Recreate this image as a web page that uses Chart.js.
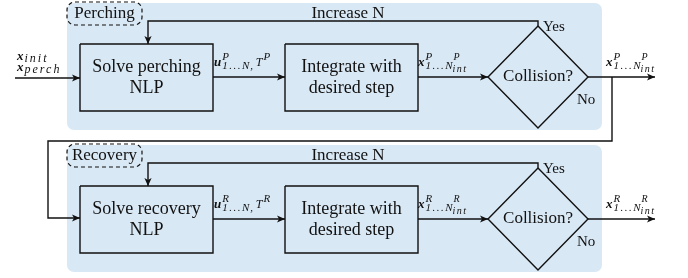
<!DOCTYPE html>
<html>
<head>
<meta charset="utf-8">
<script src="https://cdn.jsdelivr.net/npm/chart.js@4/dist/chart.umd.min.js"></script>
<style>
html, body { margin: 0; padding: 0; background: #fff; }
#wrap { width: 688px; height: 278px; }
</style>
</head>
<body>
<div id="wrap"><canvas id="chart" width="688" height="278"></canvas></div>
<script>
// diagram text
const stages = ["Perching", "Recovery"];
const stageSymbols = ["P", "R"];
const solveLabels = [["Solve perching", "NLP"], ["Solve recovery", "NLP"]];
const integrateLabels = ["Integrate with", "desired step"];
const decisionLabel = "Collision?";
const loopLabel = "Increase N";
const branchLabels = ["Yes", "No"];
const inputSubscripts = ["init", "perch"];

// layout (in scale units, y grows downward)
const STAGE_DY = [0, 142];
const PANEL = { x0: 67, x1: 602, y0: 3, y1: 130 };
const TAG = { x0: 67, x1: 142, y0: 2, y1: 25 };
const SOLVE = { x0: 80, x1: 213, y0: 44, y1: 111 };
const INTEG = { x0: 285, x1: 418, y0: 44, y1: 111 };
const DIAM = { cx: 538, cy: 77, rx: 50, ry: 51 };
const LOOP = { x: 148, y: 21 };
const OUT_X = 655;
const LINK_X = 612, LINK_Y = 141, LEFT_X = 48;

const SERIF = '"Liberation Serif", "DejaVu Serif", serif';
const INK = "#111";

function rectPts(r, dy) {
	return [
		{x: r.x0, y: r.y0 + dy}, {x: r.x1, y: r.y0 + dy},
		{x: r.x1, y: r.y1 + dy}, {x: r.x0, y: r.y1 + dy},
		{x: r.x0, y: r.y0 + dy}
	];
}

function diamondPts(d, dy) {
	return [
		{x: d.cx, y: d.cy - d.ry + dy}, {x: d.cx + d.rx, y: d.cy + dy},
		{x: d.cx, y: d.cy + d.ry + dy}, {x: d.cx - d.rx, y: d.cy + dy},
		{x: d.cx, y: d.cy - d.ry + dy}
	];
}

// connectors, the last point gets an arrow head
const arrows = [];
arrows.push([{x: 15, y: 78}, {x: SOLVE.x0, y: 78}]);
STAGE_DY.forEach(dy => {
	const top = DIAM.cy - DIAM.ry;
	arrows.push([{x: DIAM.cx, y: top + dy}, {x: DIAM.cx, y: LOOP.y + dy}, {x: LOOP.x, y: LOOP.y + dy}, {x: LOOP.x, y: SOLVE.y0 + dy}]);
	arrows.push([{x: SOLVE.x1, y: DIAM.cy + dy}, {x: INTEG.x0, y: DIAM.cy + dy}]);
	arrows.push([{x: INTEG.x1, y: DIAM.cy + dy}, {x: DIAM.cx - DIAM.rx, y: DIAM.cy + dy}]);
	arrows.push([{x: DIAM.cx + DIAM.rx, y: DIAM.cy + dy}, {x: OUT_X, y: DIAM.cy + dy}]);
});
arrows.push([
	{x: LINK_X, y: DIAM.cy}, {x: LINK_X, y: LINK_Y}, {x: LEFT_X, y: LINK_Y},
	{x: LEFT_X, y: DIAM.cy + STAGE_DY[1] - 1}, {x: SOLVE.x0, y: DIAM.cy + STAGE_DY[1] - 1}
]);

const datasets = [];
function addLine(pts) {
	datasets.push({
		data: pts, showLine: true, fill: false, tension: 0,
		borderColor: INK, borderWidth: 1.4, pointRadius: 0,
		borderJoinStyle: "miter", borderCapStyle: "butt"
	});
}
STAGE_DY.forEach(dy => {
	addLine(rectPts(SOLVE, dy));
	addLine(rectPts(INTEG, dy));
	addLine(diamondPts(DIAM, dy));
});
arrows.forEach(addLine);

function run(ctx, x, y, text, style, size, spacing) {
	ctx.font = style + " " + size + "px " + SERIF;
	ctx.letterSpacing = (spacing || 0) + "px";
	ctx.fillText(text, x, y);
	const w = ctx.measureText(text).width;
	ctx.letterSpacing = "0px";
	return w;
}

// bold vector with super/subscripts, e.g. x^P_{1...N^P_int}
function mathLabel(ctx, x, y, base, sup, subParts) {
	let w = run(ctx, x, y, base, "bold italic", 13);
	let sx = x + w + 1;
	let sw = 0;
	if (sup) sw = run(ctx, sx, y - 6, sup, "italic", 11);
	let bx = sx;
	subParts.forEach(p => {
		if (p.sup || p.sub) {
			const a = p.sup ? run(ctx, bx + 1, y - 6, p.sup, "italic", 10) : 0;
			const b = p.sub ? run(ctx, bx, y + 6, p.sub, "italic", 10, 1.5) : 0;
			bx += Math.max(a, b);
		} else {
			bx += run(ctx, bx, y + 3, p.t, p.st || "italic", 11, p.sp || 0);
		}
	});
	return Math.max(sw + sx, bx) - x;
}

const diagramPlugin = {
	id: "diagram",
	beforeDatasetsDraw(chart) {
		const ctx = chart.ctx;
		const sx = chart.scales.x, sy = chart.scales.y;
		const X = v => sx.getPixelForValue(v), Y = v => sy.getPixelForValue(v);
		ctx.save();
		STAGE_DY.forEach(dy => {
			ctx.fillStyle = "#d9e8f5";
			ctx.beginPath();
			ctx.roundRect(X(PANEL.x0), Y(PANEL.y0 + dy), X(PANEL.x1) - X(PANEL.x0), Y(PANEL.y1 + dy) - Y(PANEL.y0 + dy), 7);
			ctx.fill();
		});
		ctx.restore();
	},
	afterDatasetsDraw(chart) {
		const ctx = chart.ctx;
		const sx = chart.scales.x, sy = chart.scales.y;
		const X = v => sx.getPixelForValue(v), Y = v => sy.getPixelForValue(v);
		ctx.save();

		// arrow heads
		ctx.fillStyle = INK;
		arrows.forEach(pts => {
			const a = pts[pts.length - 2], b = pts[pts.length - 1];
			const x1 = X(b.x), y1 = Y(b.y);
			const ang = Math.atan2(y1 - Y(a.y), x1 - X(a.x));
			ctx.save();
			ctx.translate(x1, y1);
			ctx.rotate(ang);
			ctx.beginPath();
			ctx.moveTo(0, 0);
			ctx.lineTo(-8, -3.6);
			ctx.lineTo(-6, 0);
			ctx.lineTo(-8, 3.6);
			ctx.closePath();
			ctx.fill();
			ctx.restore();
		});

		ctx.fillStyle = INK;
		ctx.textBaseline = "middle";
		ctx.textAlign = "center";
		STAGE_DY.forEach((dy, i) => {
			// stage tag
			ctx.save();
			ctx.setLineDash([4, 3]);
			ctx.lineWidth = 1.2;
			ctx.strokeStyle = INK;
			ctx.beginPath();
			ctx.roundRect(X(TAG.x0), Y(TAG.y0 + dy), X(TAG.x1) - X(TAG.x0), Y(TAG.y1 + dy) - Y(TAG.y0 + dy), 8);
			ctx.stroke();
			ctx.restore();
			run(ctx, X((TAG.x0 + TAG.x1) / 2), Y(14 + dy), stages[i], "", 17);

			run(ctx, X(348), Y(14 + dy), loopLabel, "", 17);
			const mx = (SOLVE.x0 + SOLVE.x1) / 2, ix = (INTEG.x0 + INTEG.x1) / 2;
			run(ctx, X(mx), Y(67 + dy), solveLabels[i][0], "", 18);
			run(ctx, X(mx), Y(88 + dy), solveLabels[i][1], "", 18);
			run(ctx, X(ix), Y(67 + dy), integrateLabels[0], "", 18);
			run(ctx, X(ix), Y(88 + dy), integrateLabels[1], "", 18);
			run(ctx, X(DIAM.cx), Y(DIAM.cy + dy), decisionLabel, "", 17);

			ctx.textAlign = "left";
			run(ctx, X(543), Y(27 + dy), branchLabels[0], "", 15);
			run(ctx, X(577), Y(100 + dy), branchLabels[1], "", 15);

			// arrow labels
			ctx.textBaseline = "alphabetic";
			const s = stageSymbols[i];
			let w = mathLabel(ctx, X(214), Y(66 + dy), "u", s, [{t: "1...", st: "", sp: 1.5}, {t: "N"}]);
			let tx = X(214) + w + 1;
			tx += run(ctx, tx, Y(69 + dy), ", ", "", 11);
			tx += run(ctx, tx, Y(66 + dy), "T", "italic", 12) + 1;
			run(ctx, tx, Y(60 + dy), s, "italic", 11);
			const xs = [{t: "1...", st: "", sp: 1.5}, {t: "N"}, {sup: s, sub: "int"}];
			mathLabel(ctx, X(418), Y(66 + dy), "x", s, xs);
			mathLabel(ctx, X(606), Y(66 + dy), "x", s, xs);
			ctx.textBaseline = "middle";
			ctx.textAlign = "center";
		});

		// inputs
		ctx.textAlign = "left";
		ctx.textBaseline = "alphabetic";
		inputSubscripts.forEach((sub, k) => {
			const y = Y(60 + k * 11);
			const w = run(ctx, X(17), y, "x", "bold italic", 13);
			run(ctx, X(17) + w + 1, y + 2, sub, "italic", 12, 2);
		});
		ctx.restore();
	}
};

new Chart(document.getElementById("chart").getContext("2d"), {
	type: "scatter",
	data: { datasets: datasets },
	options: {
		responsive: false,
		animation: false,
		events: [],
		layout: { padding: 0 },
		plugins: { legend: { display: false }, tooltip: { enabled: false } },
		scales: {
			x: { type: "linear", min: 0, max: 688, display: false },
			y: { type: "linear", min: 0, max: 278, reverse: true, display: false }
		}
	},
	plugins: [diagramPlugin]
});
</script>
</body>
</html>
